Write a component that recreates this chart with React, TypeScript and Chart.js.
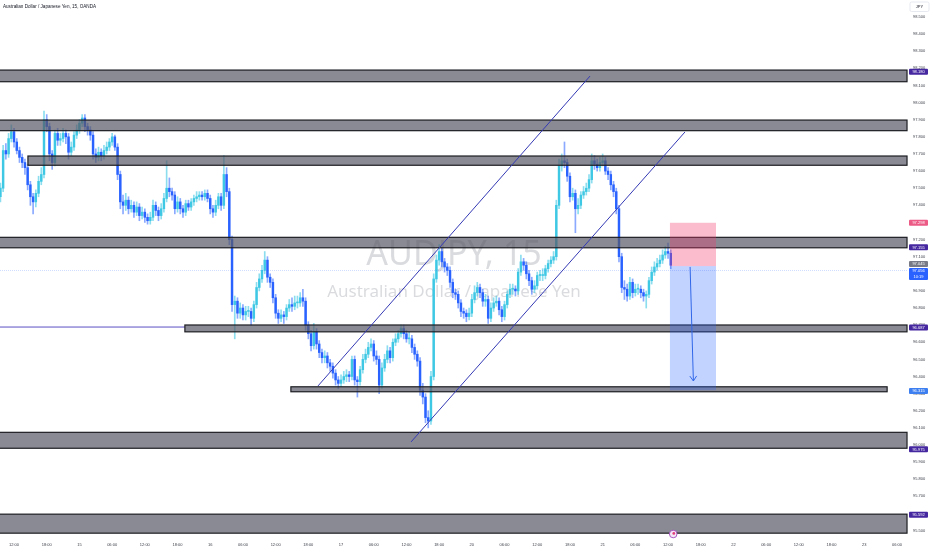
import React, { useEffect, useRef } from "react";
import { Chart, registerables } from "chart.js";

Chart.register(...registerables);

// ---------------- data (30-minute candles, AUDJPY) ----------------
const firstOpen = 97.45;
const closes = [
  97.50, 97.72, 97.70, 97.79, 97.83, 97.77, 97.72, 97.68, 97.65, 97.62,
  97.52, 97.45, 97.42, 97.47, 97.54, 97.58, 97.90, 97.86, 97.70, 97.65,
  97.82, 97.78, 97.79, 97.82, 97.80, 97.71, 97.74, 97.81, 97.84, 97.88,
  97.91, 97.86, 97.84, 97.81, 97.70, 97.68, 97.71, 97.69, 97.72, 97.74,
  97.77, 97.80, 97.74, 97.58, 97.42, 97.40, 97.43, 97.38, 97.40, 97.36,
  97.39, 97.34, 97.36, 97.33, 97.31, 97.33, 97.40, 97.37, 97.34, 97.38,
  97.44, 97.50, 97.48, 97.46, 97.38, 97.42, 97.38, 97.36, 97.41, 97.39,
  97.42, 97.44, 97.45, 97.46, 97.45, 97.47, 97.44, 97.38, 97.36, 97.40,
  97.45, 97.40, 97.58, 97.48, 97.20, 96.82, 96.84, 96.77, 96.80, 96.76,
  96.78, 96.78, 96.74, 96.82, 96.92, 96.97, 97.02, 97.08, 96.98, 96.95,
  96.86, 96.77, 96.74, 96.76, 96.75, 96.80, 96.82, 96.81, 96.83, 96.83,
  96.86, 96.84, 96.70, 96.65, 96.58, 96.66, 96.59, 96.54, 96.51, 96.52,
  96.48, 96.46, 96.42, 96.38, 96.36, 96.38, 96.40, 96.41, 96.40, 96.50,
  96.38, 96.37, 96.44, 96.50, 96.53, 96.57, 96.59, 96.52, 96.50, 96.35,
  96.45, 96.50, 96.55, 96.51, 96.60, 96.62, 96.65, 96.68, 96.65, 96.62,
  96.62, 96.57, 96.53, 96.49, 96.32, 96.28, 96.16, 96.14, 96.40, 96.97,
  97.08, 97.13, 97.07, 97.04, 97.02, 96.95, 96.89, 96.88, 96.83, 96.78,
  96.77, 96.75, 96.77, 96.85, 96.89, 96.92, 96.89, 96.84, 96.85, 96.74,
  96.80, 96.83, 96.84, 96.79, 96.75, 96.82, 96.88, 96.91, 96.91, 96.90,
  97.01, 97.07, 97.05, 97.00, 96.96, 96.91, 96.93, 96.99, 96.99, 96.99,
  97.03, 97.06, 97.08, 97.10, 97.40, 97.63, 97.66, 97.65, 97.57, 97.45,
  97.47, 97.38, 97.40, 97.46, 97.48, 97.50, 97.55, 97.66, 97.64, 97.62,
  97.65, 97.66, 97.60, 97.58, 97.52, 97.48, 97.38, 97.10, 96.92, 96.91,
  96.87, 96.95, 96.89, 96.91, 96.91, 96.89, 96.87, 96.88, 96.96, 97.01,
  97.04, 97.06, 97.08, 97.11, 97.13, 97.12, 97.05,
];
const highs = [
  97.53, 97.75, 97.76, 97.82, 97.87, 97.85, 97.79, 97.74, 97.70, 97.67,
  97.64, 97.54, 97.47, 97.49, 97.57, 97.62, 97.95, 97.93, 97.88, 97.72,
  97.84, 97.85, 97.82, 97.85, 97.84, 97.82, 97.77, 97.83, 97.87, 97.90,
  97.93, 97.93, 97.88, 97.86, 97.83, 97.73, 97.74, 97.73, 97.75, 97.77,
  97.79, 97.82, 97.81, 97.76, 97.60, 97.46, 97.47, 97.45, 97.43, 97.42,
  97.42, 97.41, 97.39, 97.38, 97.35, 97.36, 97.43, 97.42, 97.39, 97.41,
  97.47, 97.66, 97.56, 97.50, 97.48, 97.45, 97.44, 97.40, 97.43, 97.43,
  97.44, 97.46, 97.48, 97.48, 97.48, 97.49, 97.49, 97.46, 97.40, 97.43,
  97.47, 97.47, 97.69, 97.62, 97.50, 97.22, 96.87, 96.86, 96.83, 96.82,
  96.81, 96.81, 96.80, 96.84, 96.95, 97.00, 97.05, 97.13, 97.10, 97.00,
  96.97, 96.88, 96.79, 96.79, 96.78, 96.82, 96.85, 96.86, 96.87, 96.87,
  96.89, 96.91, 96.86, 96.72, 96.67, 96.71, 96.68, 96.61, 96.56, 96.55,
  96.54, 96.50, 96.48, 96.44, 96.40, 96.41, 96.43, 96.44, 96.43, 96.52,
  96.52, 96.40, 96.46, 96.53, 96.56, 96.60, 96.62, 96.61, 96.55, 96.52,
  96.48, 96.53, 96.58, 96.57, 96.62, 96.65, 96.67, 96.70, 96.70, 96.67,
  96.66, 96.64, 96.59, 96.55, 96.51, 96.36, 96.30, 96.20, 96.43, 97.00,
  97.11, 97.17, 97.15, 97.09, 97.06, 97.04, 96.97, 96.91, 96.90, 96.85,
  96.80, 96.79, 96.80, 96.88, 96.93, 96.95, 96.94, 96.91, 96.88, 96.87,
  96.83, 96.86, 96.87, 96.86, 96.81, 96.84, 96.90, 96.94, 96.94, 96.93,
  97.03, 97.11, 97.09, 97.07, 97.02, 96.98, 96.96, 97.01, 97.02, 97.03,
  97.05, 97.08, 97.10, 97.13, 97.43, 97.67, 97.70, 97.77, 97.67, 97.59,
  97.50, 97.49, 97.44, 97.48, 97.51, 97.53, 97.58, 97.70, 97.69, 97.67,
  97.68, 97.70, 97.68, 97.62, 97.60, 97.54, 97.50, 97.40, 97.12, 96.96,
  96.94, 96.98, 96.97, 96.94, 96.94, 96.93, 96.91, 96.90, 96.98, 97.04,
  97.07, 97.09, 97.11, 97.14, 97.16, 97.18, 97.14,
];
const lows = [
  97.42, 97.48, 97.67, 97.68, 97.77, 97.74, 97.70, 97.65, 97.62, 97.58,
  97.49, 97.40, 97.35, 97.39, 97.45, 97.52, 97.56, 97.83, 97.66, 97.61,
  97.63, 97.75, 97.75, 97.77, 97.76, 97.67, 97.69, 97.72, 97.79, 97.82,
  97.86, 97.83, 97.81, 97.78, 97.67, 97.65, 97.66, 97.66, 97.67, 97.70,
  97.72, 97.75, 97.72, 97.55, 97.38, 97.35, 97.37, 97.35, 97.36, 97.33,
  97.34, 97.31, 97.32, 97.30, 97.29, 97.29, 97.31, 97.34, 97.31, 97.32,
  97.36, 97.42, 97.45, 97.43, 97.35, 97.36, 97.35, 97.33, 97.34, 97.37,
  97.37, 97.40, 97.42, 97.43, 97.43, 97.43, 97.42, 97.35, 97.33, 97.34,
  97.38, 97.37, 97.38, 97.45, 97.17, 96.78, 96.62, 96.74, 96.74, 96.73,
  96.73, 96.75, 96.70, 96.72, 96.80, 96.90, 96.95, 97.00, 96.95, 96.92,
  96.83, 96.74, 96.71, 96.72, 96.71, 96.73, 96.78, 96.78, 96.79, 96.80,
  96.81, 96.81, 96.67, 96.62, 96.55, 96.56, 96.56, 96.51, 96.48, 96.48,
  96.45, 96.43, 96.39, 96.35, 96.33, 96.34, 96.36, 96.37, 96.37, 96.38,
  96.35, 96.28, 96.35, 96.42, 96.48, 96.51, 96.55, 96.49, 96.47, 96.30,
  96.33, 96.43, 96.48, 96.48, 96.49, 96.58, 96.60, 96.63, 96.62, 96.60,
  96.59, 96.54, 96.50, 96.46, 96.29, 96.24, 96.13, 96.10, 96.12, 96.38,
  96.95, 97.05, 97.04, 97.01, 96.99, 96.92, 96.86, 96.85, 96.80, 96.75,
  96.74, 96.72, 96.73, 96.75, 96.83, 96.87, 96.86, 96.81, 96.81, 96.71,
  96.72, 96.78, 96.81, 96.76, 96.72, 96.73, 96.80, 96.86, 96.88, 96.87,
  96.88, 96.99, 97.02, 96.97, 96.93, 96.88, 96.89, 96.91, 96.96, 96.96,
  96.97, 97.01, 97.04, 97.06, 97.08, 97.38, 97.60, 97.62, 97.54, 97.42,
  97.43, 97.24, 97.35, 97.38, 97.44, 97.46, 97.48, 97.53, 97.61, 97.60,
  97.60, 97.63, 97.58, 97.55, 97.49, 97.45, 97.35, 97.07, 96.89, 96.85,
  96.84, 96.85, 96.86, 96.87, 96.88, 96.86, 96.84, 96.80, 96.86, 96.94,
  96.99, 97.02, 97.04, 97.06, 97.09, 97.09, 97.03,
];

const xTickLabels = [
  "12:00", "18:00", "15", "06:00", "12:00", "18:00", "16", "06:00", "12:00", "18:00",
  "17", "06:00", "12:00", "18:00", "20", "06:00", "12:00", "18:00", "21", "06:00",
  "12:00", "18:00", "22", "06:00", "12:00", "18:00", "23", "06:00",
];
const xTickFirstBar = 5;
const barsPerTick = 12;

const yTickValues = [
  95.5, 95.6, 95.7, 95.8, 95.9, 96.0, 96.1, 96.2, 96.3, 96.4, 96.5,
  96.6, 96.7, 96.8, 96.9, 97.0, 97.1, 97.2, 97.3, 97.4, 97.5, 97.6,
  97.7, 97.8, 97.9, 98.0, 98.1, 98.2, 98.3, 98.4, 98.5,
];

// drawings (price levels, bar-index time coordinates)
const zones = [
  { top: 98.19, bottom: 98.122, from: -5, to: 332.7 },
  { top: 97.898, bottom: 97.836, from: -5, to: 332.7 },
  { top: 97.688, bottom: 97.634, from: 10.1, to: 332.7 },
  { top: 97.213, bottom: 97.152, from: -5, to: 332.7 },
  { top: 96.701, bottom: 96.661, from: 67.7, to: 332.7 },
  { top: 96.34, bottom: 96.311, from: 106.6, to: 325.4 },
  { top: 96.074, bottom: 95.981, from: -5, to: 332.7 },
  { top: 95.596, bottom: 95.485, from: -5, to: 332.7 },
];
const rayLevel = { price: 96.689, from: -5, to: 67.7 };
const channelLines = [
  { x1: 116.55, p1: 96.345, x2: 216.37, p2: 98.155 },
  { x1: 150.7, p1: 96.018, x2: 251.2, p2: 97.828 },
];
const position = { from: 245.7, to: 262.6, stop: 97.298, entry: 97.045, target: 96.32 };
const arrow = { x1: 253.1, p1: 97.04, x2: 254.3, p2: 96.374 };
const lastPrice = 97.056;
const priceLineLevel = 97.02;
const countdown = "10:19";
const zoneBadges = [98.18, 97.155, 96.687, 95.975, 95.592];
const targetBadge = 96.315;
const eventBar = 246.9;

const X_MIN = -0.15;
const X_MAX = 333.06;
const Y_MIN = 95.4626;
const Y_MAX = 98.5993;

const UP = "#3fc8e4";
const DOWN = "#2962ff";
const FONT = '"Liberation Sans", Arial, sans-serif';

function rr(ctx: CanvasRenderingContext2D, x: number, y: number, w: number, h: number, r: number) {
  ctx.beginPath();
  ctx.moveTo(x + r, y);
  ctx.lineTo(x + w - r, y);
  ctx.quadraticCurveTo(x + w, y, x + w, y + r);
  ctx.lineTo(x + w, y + h - r);
  ctx.quadraticCurveTo(x + w, y + h, x + w - r, y + h);
  ctx.lineTo(x + r, y + h);
  ctx.quadraticCurveTo(x, y + h, x, y + h - r);
  ctx.lineTo(x, y + r);
  ctx.quadraticCurveTo(x, y, x + r, y);
  ctx.closePath();
}

function badge(ctx: CanvasRenderingContext2D, left: number, top: number, h: number, color: string, lines: string[]) {
  const w = 19;
  ctx.fillStyle = color;
  rr(ctx, left, top, w, h, 1);
  ctx.fill();
  ctx.fillStyle = "#ffffff";
  ctx.font = `4px ${FONT}`;
  ctx.textAlign = "center";
  ctx.textBaseline = "middle";
  const step = h / lines.length;
  lines.forEach((t, k) => ctx.fillText(t, left + w / 2, top + step * (k + 0.5) + 0.2));
}

const overlayPlugin = {
  id: "tvOverlay",
  beforeDatasetsDraw(chart: any) {
    const { ctx, chartArea: a } = chart;
    const cx = (a.left + a.right) / 2;
    ctx.save();
    ctx.fillStyle = "rgba(120,123,134,0.27)";
    ctx.textAlign = "center";
    ctx.textBaseline = "alphabetic";
    ctx.font = `34px "Noto Sans", sans-serif`;
    ctx.fillText("AUDJPY, 15", cx, 265);
    ctx.font = `17px "Noto Sans", sans-serif`;
    ctx.fillText("Australian Dollar / Japanese Yen", cx, 297);
    ctx.restore();
  },
  afterDatasetsDraw(chart: any) {
    const { ctx, chartArea: a, scales } = chart;
    const X = (v: number) => scales.x.getPixelForValue(v);
    const Y = (v: number) => scales.y.getPixelForValue(v);
    ctx.save();
    ctx.beginPath();
    ctx.rect(a.left, a.top, a.right - a.left, a.bottom - a.top);
    ctx.clip();

    // current price line
    ctx.strokeStyle = "rgba(41,98,255,0.22)";
    ctx.lineWidth = 1;
    ctx.setLineDash([1, 1]);
    ctx.beginPath();
    ctx.moveTo(a.left, Math.round(Y(priceLineLevel)) + 0.5);
    ctx.lineTo(a.right, Math.round(Y(priceLineLevel)) + 0.5);
    ctx.stroke();
    ctx.setLineDash([]);

    // horizontal ray
    ctx.strokeStyle = "#5a52c4";
    ctx.lineWidth = 1;
    ctx.beginPath();
    ctx.moveTo(X(rayLevel.from), Y(rayLevel.price));
    ctx.lineTo(X(rayLevel.to), Y(rayLevel.price));
    ctx.stroke();

    // zones
    zones.forEach((z) => {
      const x1 = X(z.from), x2 = X(z.to);
      const y1 = Y(z.top), y2 = Y(z.bottom);
      ctx.fillStyle = "rgba(88,88,102,0.7)";
      ctx.fillRect(x1, y1, x2 - x1, y2 - y1);
      ctx.strokeStyle = "#1c1d22";
      ctx.lineWidth = 1.2;
      ctx.strokeRect(x1, y1, x2 - x1, y2 - y1);
    });

    // channel lines
    ctx.strokeStyle = "#3439b4";
    ctx.lineWidth = 1;
    channelLines.forEach((l) => {
      ctx.beginPath();
      ctx.moveTo(X(l.x1), Y(l.p1));
      ctx.lineTo(X(l.x2), Y(l.p2));
      ctx.stroke();
    });

    // short position tool
    const px1 = X(position.from), px2 = X(position.to);
    ctx.fillStyle = "rgba(242,54,105,0.33)";
    ctx.fillRect(px1, Y(position.stop), px2 - px1, Y(position.entry) - Y(position.stop));
    ctx.fillStyle = "rgba(41,98,255,0.28)";
    ctx.fillRect(px1, Y(position.entry), px2 - px1, Y(position.target) - Y(position.entry));

    // arrow
    const ax1 = X(arrow.x1), ay1 = Y(arrow.p1), ax2 = X(arrow.x2), ay2 = Y(arrow.p2);
    ctx.strokeStyle = "#2f66e8";
    ctx.lineWidth = 1;
    ctx.beginPath();
    ctx.moveTo(ax1, ay1);
    ctx.lineTo(ax2, ay2);
    const ang = Math.atan2(ay2 - ay1, ax2 - ax1);
    const hl = 6;
    ctx.moveTo(ax2 - hl * Math.cos(ang - 0.6), ay2 - hl * Math.sin(ang - 0.6));
    ctx.lineTo(ax2, ay2);
    ctx.lineTo(ax2 - hl * Math.cos(ang + 0.6), ay2 - hl * Math.sin(ang + 0.6));
    ctx.stroke();
    ctx.restore();
  },
  afterDraw(chart: any) {
    const { ctx, chartArea: a, scales } = chart;
    const X = (v: number) => scales.x.getPixelForValue(v);
    const Y = (v: number) => scales.y.getPixelForValue(v);
    const left = a.right + 1;
    ctx.save();

    // title
    ctx.fillStyle = "#131722";
    ctx.font = `4.6px ${FONT}`;
    ctx.textAlign = "left";
    ctx.textBaseline = "middle";
    ctx.fillText("Australian Dollar / Japanese Yen, 15, OANDA", 3, 6.5);

    // currency box
    ctx.strokeStyle = "#e0e3eb";
    ctx.lineWidth = 0.8;
    rr(ctx, left + 1, 2, 19, 9.5, 1.5);
    ctx.fillStyle = "#ffffff";
    ctx.fill();
    ctx.stroke();
    ctx.fillStyle = "#131722";
    ctx.font = `4px ${FONT}`;
    ctx.textAlign = "center";
    ctx.fillText("JPY", left + 10.5, 7);

    // badges
    zoneBadges.forEach((v) => badge(ctx, left, Y(v) - 3, 6, "#4527a0", [v.toFixed(3)]));
    badge(ctx, left, Y(position.stop) - 3, 6, "#ec5a86", [position.stop.toFixed(3)]);
    badge(ctx, left, Y(targetBadge) - 3, 6, "#3d7ff0", [targetBadge.toFixed(3)]);
    const gTop = Y(position.entry) - 5;
    badge(ctx, left, gTop, 6, "#787b86", [position.entry.toFixed(3)]);
    badge(ctx, left, gTop + 7, 12, "#2962ff", [lastPrice.toFixed(3), countdown]);

    // event marker on time axis
    const ex = X(eventBar), ey = a.bottom - 3;
    ctx.beginPath();
    ctx.arc(ex, ey, 3.8, 0, Math.PI * 2);
    ctx.fillStyle = "#f6e9f7";
    ctx.fill();
    ctx.strokeStyle = "#a34bc0";
    ctx.lineWidth = 0.9;
    ctx.stroke();
    ctx.beginPath();
    ctx.arc(ex + 0.6, ey - 0.6, 1.4, 0, Math.PI * 2);
    ctx.fillStyle = "#e0407a";
    ctx.fill();
    ctx.restore();
  },
};

export default function App() {
  const ref = useRef<HTMLCanvasElement | null>(null);

  useEffect(() => {
    if (!ref.current) return;
    const idx = closes.map((_, i) => i);
    const opens = closes.map((c, i) => (i === 0 ? firstOpen : closes[i - 1]));
    const isUp = closes.map((c, i) => c >= opens[i]);

    const chart = new Chart(ref.current, {
      type: "bar",
      data: {
        datasets: [
          {
            label: "body",
            data: idx.map((i) => ({ x: i, y: [opens[i], closes[i]] })) as any,
            backgroundColor: isUp.map((u) => (u ? UP : DOWN)),
            borderWidth: 0,
            barThickness: 1.8,
            minBarLength: 1,
            grouped: false,
            order: 0,
          } as any,
          {
            label: "wick",
            data: idx.map((i) => ({ x: i, y: [lows[i], highs[i]] })) as any,
            backgroundColor: isUp.map((u) => (u ? "rgba(63,200,228,0.6)" : "rgba(41,98,255,0.55)")),
            borderWidth: 0,
            barThickness: 1,
            grouped: false,
            order: 1,
          } as any,
        ],
      },
      options: {
        animation: false,
        responsive: false,
        events: [],
        layout: { padding: 0 },
        plugins: { legend: { display: false }, tooltip: { enabled: false } },
        scales: {
          x: {
            type: "linear",
            min: X_MIN,
            max: X_MAX,
            offset: false,
            grid: { display: false, drawTicks: false },
            border: { display: false },
            afterFit: (s: any) => {
              s.height = 13;
              s.paddingLeft = 0;
              s.paddingRight = 0;
            },
            afterBuildTicks: (s: any) => {
              s.ticks = xTickLabels.map((_, k) => ({ value: xTickFirstBar + k * barsPerTick }));
            },
            ticks: {
              autoSkip: false,
              maxRotation: 0,
              padding: 5,
              color: "#3b3e48",
              font: { size: 4, family: FONT },
              callback: (_v: any, i: number) => xTickLabels[i],
            },
          },
          y: {
            type: "linear",
            position: "right",
            min: Y_MIN,
            max: Y_MAX,
            grid: { display: false, drawTicks: false },
            border: { display: false },
            afterFit: (s: any) => {
              s.width = 24;
              s.paddingTop = 0;
              s.paddingBottom = 0;
            },
            afterBuildTicks: (s: any) => {
              s.ticks = yTickValues.map((v) => ({ value: v }));
            },
            ticks: {
              autoSkip: false,
              padding: 5,
              color: "#3b3e48",
              font: { size: 4, family: FONT },
              callback: (v: any) => Number(v).toFixed(3),
            },
          },
        },
      },
      plugins: [overlayPlugin],
    } as any);

    return () => chart.destroy();
  }, []);

  return (
    <div style={{ position: "absolute", left: 0, top: 0, width: 932, height: 550, background: "#ffffff" }}>
      <canvas ref={ref} width={932} height={550} style={{ display: "block" }} />
    </div>
  );
}
